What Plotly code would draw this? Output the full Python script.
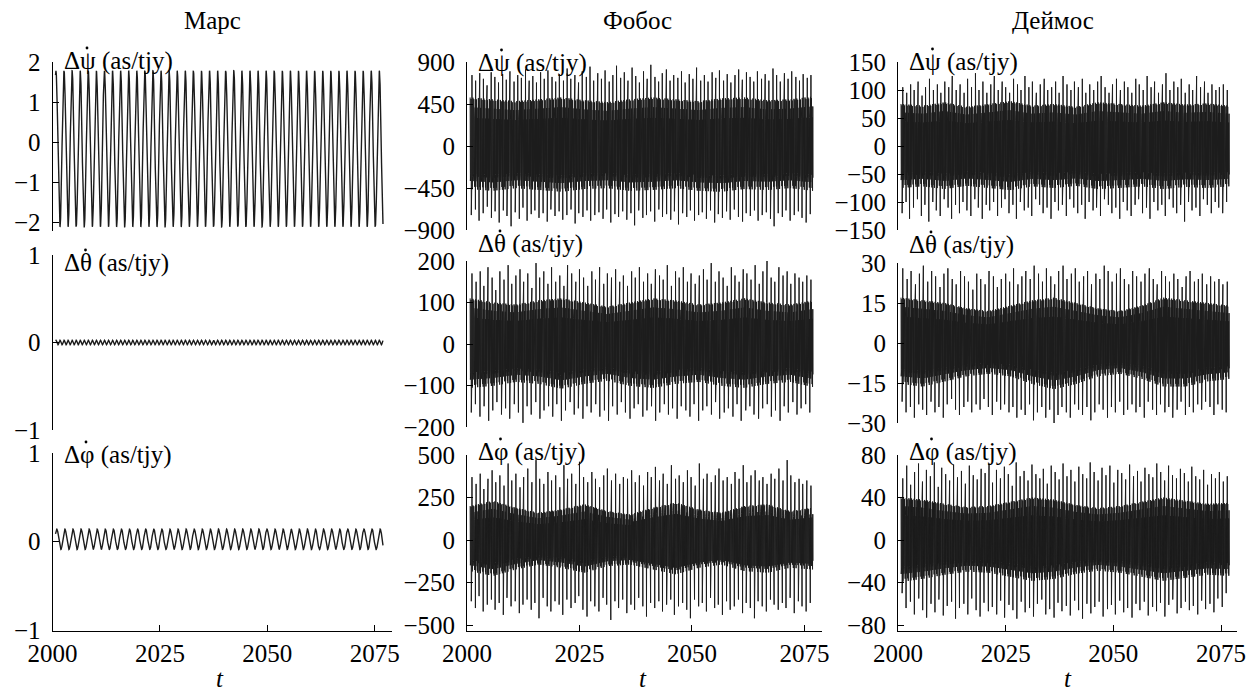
import numpy as np
import plotly.graph_objects as go

W, H = 1255, 695
FONT = "'Liberation Serif', 'Times New Roman', Times, serif"
FS = 25

# ---------------- data ----------------
column_titles = ["Марс", "Фобос", "Деймос"]
row_labels = ["Δψ (as/tjy)", "Δθ (as/tjy)", "Δφ (as/tjy)"]   # each symbol carries a dot above (time derivative)
x_tick_vals = [2000, 2025, 2050, 2075]

y_ticks_mars = [[-2, -1, 0, 1, 2], [-1, 0, 1], [-1, 0, 1]]
y_ticks_phobos = [[-900, -450, 0, 450, 900], [-200, -100, 0, 100, 200], [-500, -250, 0, 250, 500]]
y_ticks_deimos = [[-150, -100, -50, 0, 50, 100, 150], [-30, -15, 0, 15, 30], [-80, -40, 0, 40, 80]]

t_first, t_last = 2000.7, 2076.9

# Mars: regular oscillations (period in years, extremes)
mars_period = 1.881
mars_first_peak = 2000.8
mars_psi_max, mars_psi_min = 1.78, -2.12
mars_theta_period = 0.9405
mars_theta_max, mars_theta_min = 0.025, -0.025
mars_phi_first_peak = 2001.0
mars_phi_max, mars_phi_min = 0.14, -0.09

# Phobos / Deimos: core envelope (slow) and spike extremes, left to right
phobos_psi_core_hi = [520, 500, 480, 500, 520, 490, 470, 500, 520, 500, 480, 510, 520, 490, 500, 530]
phobos_psi_core_lo = [-480, -500, -470, -490, -510, -480, -470, -500, -490, -470, -500, -510, -480, -490, -470, -500]
phobos_psi_hi = [760, 700, 780, 720, 650, 790, 740, 680, 770, 710, 800, 690, 760, 730, 820, 700, 750, 680, 790, 720,
                 810, 740, 690, 770, 700, 830, 720, 760, 680, 800, 740, 850, 700, 780, 720, 810, 690, 760, 860, 730,
                 790, 700, 840, 750, 680, 800, 720, 870, 740, 690, 780, 820, 700, 760, 730, 800, 680, 770, 720, 840,
                 700, 760, 690, 790, 730, 810, 700, 770, 680, 760, 820, 710, 790, 740, 690, 800, 720, 770, 700, 830,
                 760, 690, 780, 720, 800, 740, 700, 770, 730, 760]
phobos_psi_lo = [-740, -680, -800, -720, -650, -770, -700, -820, -690, -750, -860, -710, -780, -660, -800, -730, -690,
                 -770, -720, -810, -680, -750, -700, -790, -740, -680, -830, -720, -760, -690, -800, -740, -710, -780,
                 -680, -820, -730, -760, -700, -790, -720, -850, -690, -770, -740, -700, -810, -680, -760, -730, -790,
                 -700, -840, -720, -760, -690, -800, -740, -710, -780, -690, -820, -730, -770, -700, -790, -680, -760,
                 -810, -720, -750, -690, -800, -740, -710, -780, -860, -720, -760, -690, -800, -740, -700, -770, -820,
                 -730]

phobos_theta_core_hi = [110, 100, 95, 105, 110, 100, 90, 100, 110, 105, 95, 100, 110, 100, 95, 105]
phobos_theta_core_lo = [-110, -105, -95, -100, -112, -100, -92, -105, -110, -100, -95, -105, -110, -100, -95, -108]
phobos_theta_hi = [170, 150, 175, 140, 185, 160, 130, 175, 155, 190, 145, 165, 180, 150, 170, 135, 195, 160, 175, 145,
                   185, 150, 165, 140, 190, 170, 150, 180, 160, 140, 175, 155, 185, 145, 170, 160, 180, 150, 165, 140,
                   175, 160, 185, 150, 170, 145, 180, 165, 155, 190, 140, 175, 160, 185, 150, 170, 145, 165, 180, 155,
                   195, 150, 175, 160, 140, 185, 165, 150, 180, 170, 155, 190, 145, 175, 200, 160, 150, 185, 165, 175,
                   145, 170, 160, 150, 165, 155]
phobos_theta_lo = [-165, -145, -175, -150, -185, -160, -140, -170, -155, -180, -145, -165, -190, -150, -170, -140, -180,
                   -160, -150, -175, -145, -185, -160, -140, -170, -155, -180, -150, -165, -145, -175, -160, -185, -150,
                   -170, -140, -165, -180, -155, -145, -175, -160, -150, -185, -165, -145, -170, -155, -180, -150, -160,
                   -175, -145, -185, -160, -150, -170, -140, -180, -165, -155, -175, -145, -185, -160, -150, -170, -180,
                   -155, -145, -175, -160, -185, -150, -165, -140, -170, -155, -145, -165]

phobos_phi_core_hi = [200, 230, 190, 160, 180, 210, 170, 150, 190, 220, 180, 160, 200, 210, 170, 190]
phobos_phi_core_lo = [-190, -220, -180, -150, -170, -200, -160, -150, -180, -210, -170, -150, -190, -200, -170, -180]
phobos_phi_hi = [370, 330, 390, 300, 360, 410, 340, 380, 320, 450, 350, 390, 310, 370, 420, 340, 470, 360, 330, 400,
                 350, 380, 310, 440, 360, 390, 330, 460, 370, 340, 400, 360, 310, 380, 420, 350, 390, 330, 370, 360,
                 410, 340, 380, 320, 400, 370, 430, 350, 390, 330, 440, 360, 380, 340, 410, 370, 320, 450, 360, 390,
                 340, 380, 420, 350, 370, 330, 400, 360, 440, 340, 380, 410, 350, 370, 330, 390, 360, 420, 350, 470,
                 380, 340, 360, 330, 350, 320]
phobos_phi_lo = [-360, -400, -330, -420, -380, -350, -410, -370, -440, -340, -390, -360, -430, -380, -350, -410, -370,
                 -460, -340, -390, -420, -360, -380, -440, -350, -400, -370, -330, -410, -450, -360, -390, -420, -340,
                 -380, -470, -360, -400, -350, -430, -380, -410, -340, -390, -450, -370, -400, -360, -420, -380, -350,
                 -440, -390, -370, -410, -460, -350, -390, -370, -420, -340, -400, -380, -440, -360, -410, -390, -350,
                 -430, -370, -400, -460, -360, -390, -420, -350, -380, -410, -370, -400, -340, -430, -360, -390, -420,
                 -370]

deimos_psi_core_hi = [75, 72, 78, 70, 75, 80, 72, 75, 70, 78, 75, 72, 78, 74, 76, 72]
deimos_psi_core_lo = [-78, -75, -80, -74, -78, -82, -75, -78, -74, -80, -78, -75, -80, -76, -78, -75]
deimos_psi_hi = [105, 95, 110, 100, 115, 90, 105, 120, 100, 110, 95, 115, 105, 125, 100, 110, 95, 120, 105, 130,
                 100, 115, 95, 110, 125, 100, 115, 105, 95, 120, 110, 100, 125, 105, 115, 95, 110, 120, 100, 105,
                 115, 95, 125, 110, 100, 115, 105, 120, 95, 110, 100, 115, 125, 105, 95, 110, 120, 100, 115, 105,
                 95, 120, 110, 100, 125, 105, 115, 95, 110, 130, 100, 115, 105, 120, 95, 110, 100, 125, 105, 115,
                 95, 110, 100, 105, 110, 100]
deimos_psi_lo = [-120, -100, -130, -110, -95, -125, -105, -135, -100, -115, -125, -95, -110, -130, -105, -120, -100,
                 -115, -125, -95, -110, -130, -105, -115, -100, -125, -110, -95, -120, -105, -130, -100, -115, -110,
                 -125, -95, -105, -120, -110, -130, -100, -115, -105, -125, -95, -110, -120, -105, -130, -100, -115,
                 -110, -125, -95, -105, -120, -110, -130, -100, -115, -125, -105, -95, -120, -110, -130, -100, -115,
                 -105, -125, -95, -110, -120, -105, -135, -100, -115, -110, -125, -95, -105, -120, -100, -110, -120,
                 -100]

deimos_theta_core_hi = [17, 16, 15, 13, 12, 14, 16, 17, 15, 13, 12, 14, 17, 16, 15, 14]
deimos_theta_core_lo = [-16, -17, -15, -13, -12, -13, -16, -18, -16, -13, -12, -14, -17, -17, -15, -14]
deimos_theta_hi = [28, 24, 27, 22, 26, 29, 23, 27, 25, 21, 26, 28, 24, 22, 27, 25, 23, 20, 26, 24, 22, 27, 25, 21,
                   24, 26, 23, 28, 22, 25, 27, 24, 29, 26, 23, 28, 25, 22, 27, 29, 24, 26, 28, 23, 25, 27, 22, 26,
                   24, 29, 27, 23, 26, 28, 24, 22, 27, 25, 23, 26, 28, 24, 22, 27, 25, 23, 26, 24, 21, 25, 27, 23,
                   24, 26, 22, 25, 23, 24, 22, 23]
deimos_theta_lo = [-22, -26, -24, -28, -23, -25, -27, -22, -26, -24, -28, -23, -21, -25, -27, -24, -22, -26, -23, -25,
                   -21, -24, -27, -22, -25, -23, -26, -24, -28, -25, -27, -23, -29, -26, -24, -28, -25, -30, -27, -24,
                   -26, -28, -23, -25, -27, -24, -29, -26, -23, -25, -28, -24, -26, -22, -27, -25, -23, -26, -24, -28,
                   -22, -25, -27, -23, -26, -24, -28, -25, -22, -27, -24, -26, -23, -25, -22, -24, -27, -23, -25, -26]

deimos_phi_core_hi = [40, 38, 34, 31, 32, 36, 40, 38, 33, 30, 32, 36, 40, 37, 34, 35]
deimos_phi_core_lo = [-41, -38, -34, -31, -32, -36, -40, -38, -33, -30, -32, -36, -40, -37, -34, -35]
deimos_phi_hi = [58, 70, 52, 64, 72, 55, 66, 60, 73, 50, 68, 62, 56, 71, 59, 65, 53, 70, 61, 57, 67, 63, 72, 54,
                 66, 58, 69, 62, 51, 73, 60, 65, 56, 71, 62, 58, 67, 53, 70, 64, 57, 72, 60, 66, 55, 69, 62, 58,
                 73, 64, 56, 68, 61, 70, 54, 66, 63, 57, 71, 60, 65, 55, 68, 62, 59, 72, 64, 56, 70, 61, 58, 67,
                 63, 55, 69, 60, 57, 66, 52, 62, 58, 64, 55, 60]
deimos_phi_lo = [-50, -64, -58, -70, -55, -66, -73, -60, -68, -56, -71, -62, -58, -74, -64, -60, -70, -55, -66, -72,
                 -59, -67, -63, -70, -57, -73, -61, -66, -74, -58, -68, -64, -72, -60, -56, -70, -65, -73, -59, -67,
                 -62, -71, -57, -66, -74, -60, -69, -63, -58, -72, -65, -61, -70, -57, -68, -64, -73, -60, -66, -58,
                 -71, -63, -67, -59, -72, -61, -56, -69, -64, -58, -66, -62, -70, -57, -65, -60, -68, -55, -63, -50]

# texture of the dense core (fractions of the envelope, repeating)
core_pattern = [1.0, 0.78, 0.94, 0.62, 0.97, 0.85, 0.7, 0.9, 0.58, 0.96, 0.8, 0.68]


# ---------------- series builders ----------------
def oscillation(first_peak, period, vmax, vmin, n=5000):
    t = np.linspace(t_first, t_last, n)
    mid = (vmax + vmin) / 2
    amp = (vmax - vmin) / 2
    return t, mid + amp * np.cos(2 * np.pi * (t - first_peak) / period)


def dense(core_hi, core_lo, spikes_hi, spikes_lo, n_half=1500):
    t = np.linspace(t_first, t_last, n_half)
    idx = np.arange(n_half)
    nodes_hi = np.linspace(t_first, t_last, len(core_hi))
    nodes_lo = np.linspace(t_first, t_last, len(core_lo))
    env_hi = np.interp(t, nodes_hi, core_hi)
    env_lo = np.interp(t, nodes_lo, core_lo)
    pat = np.array(core_pattern)[idx % len(core_pattern)]
    y = np.where(idx % 2 == 0, env_hi * pat, env_lo * pat)
    k_hi = len(spikes_hi)
    for k, v in enumerate(spikes_hi):
        j = int(round((k + 0.5) / k_hi * (n_half - 1)))
        j -= j % 2
        y[j] = v
    k_lo = len(spikes_lo)
    for k, v in enumerate(spikes_lo):
        j = int(round((k + 0.25) / k_lo * (n_half - 1)))
        if j % 2 == 0:
            j += 1
        y[min(j, n_half - 1)] = v
    return t, y


series = {
    (0, 0): oscillation(mars_first_peak, mars_period, mars_psi_max, mars_psi_min),
    (1, 0): oscillation(mars_first_peak, mars_theta_period, mars_theta_max, mars_theta_min),
    (2, 0): oscillation(mars_phi_first_peak, mars_period, mars_phi_max, mars_phi_min),
    (0, 1): dense(phobos_psi_core_hi, phobos_psi_core_lo, phobos_psi_hi, phobos_psi_lo),
    (1, 1): dense(phobos_theta_core_hi, phobos_theta_core_lo, phobos_theta_hi, phobos_theta_lo),
    (2, 1): dense(phobos_phi_core_hi, phobos_phi_core_lo, phobos_phi_hi, phobos_phi_lo),
    (0, 2): dense(deimos_psi_core_hi, deimos_psi_core_lo, deimos_psi_hi, deimos_psi_lo),
    (1, 2): dense(deimos_theta_core_hi, deimos_theta_core_lo, deimos_theta_hi, deimos_theta_lo),
    (2, 2): dense(deimos_phi_core_hi, deimos_phi_core_lo, deimos_phi_hi, deimos_phi_lo),
}
yticks = {(r, 0): y_ticks_mars[r] for r in range(3)}
yticks.update({(r, 1): y_ticks_phobos[r] for r in range(3)})
yticks.update({(r, 2): y_ticks_deimos[r] for r in range(3)})

# ---------------- layout geometry (pixels) ----------------
cols_geo = [(52.5, 392, 2079.0), (467, 822, 2078.9), (898, 1237, 2078.7)]
panel_geo = {  # top px, bottom px, ymin, ymax
    (0, 0): (62, 231, -2.225, 2), (0, 1): (62, 230, -900, 900), (0, 2): (62, 230, -150, 150),
    (1, 0): (255, 430, -1, 1), (1, 1): (261, 427, -200, 200), (1, 2): (263, 423, -30, 30),
    (2, 0): (453, 631, -1.011, 1), (2, 1): (455, 631, -535, 500), (2, 2): (455, 631, -85.6, 80),
}
label_y = {(0, 0): 61, (0, 1): 63, (0, 2): 62, (1, 0): 263, (1, 1): 244, (1, 2): 245,
           (2, 0): 455, (2, 1): 452, (2, 2): 452}
dot_dx = [34.5, 33.0, 33.5]      # dot above the Greek symbol, offset from the y axis
dot_dy = -13
title_x = [212, 638, 1053]
t_x = [220, 643, 1068]


def px(x):
    return x / W


def py(y):
    return 1 - y / H


fig = go.Figure()
layout = dict(
    template="none",
    width=W, height=H, autosize=False, margin=dict(l=0, r=0, t=0, b=0, pad=0),
    paper_bgcolor="white", plot_bgcolor="white", showlegend=False,
    font=dict(family=FONT, size=FS, color="black"),
)
annotations = []
shapes = []
for r in range(3):
    for c in range(3):
        i = r * 3 + c + 1
        sfx = "" if i == 1 else str(i)
        t, y = series[(r, c)]
        fig.add_trace(go.Scatter(x=t, y=y, mode="lines", xaxis="x" + sfx, yaxis="y" + sfx,
                                 line=dict(color="#1c1c1c", width=1.4 if c == 0 else 1.0),
                                 hoverinfo="skip"))
        x0, x1, xmax = cols_geo[c]
        top, bot, ymin, ymax = panel_geo[(r, c)]
        xa = dict(domain=[px(x0), px(x1)], range=[2000, xmax], anchor="y" + sfx, automargin=False,
                  showgrid=False, zeroline=False)
        if r == 2:
            xa.update(showline=True, linecolor="black", linewidth=1, ticks="inside", ticklen=6,
                      tickcolor="black", tickvals=x_tick_vals, ticktext=[str(v) for v in x_tick_vals],
                      tickfont=dict(family=FONT, size=FS, color="black"))
        else:
            xa.update(visible=False)
        ya = dict(domain=[py(bot), py(top)], range=[ymin, ymax], anchor="x" + sfx, automargin=False,
                  showgrid=False, zeroline=False, showline=True, linecolor="black", linewidth=1,
                  ticks="inside", ticklen=6, tickcolor="black", tickvals=yticks[(r, c)],
                  ticktext=[str(v).replace("-", "\u2212") for v in yticks[(r, c)]],
                  tickfont=dict(family=FONT, size=FS, color="black"), ticklabelstandoff=6)
        layout["xaxis" + sfx] = xa
        layout["yaxis" + sfx] = ya
        ly = label_y[(r, c)]
        annotations.append(dict(x=px(x0 + 9), y=py(ly), xref="paper", yref="paper",
                                text=row_labels[r], showarrow=False, xanchor="left", yanchor="middle",
                                font=dict(family=FONT, size=FS, color="black")))
        dx, dy = x0 + dot_dx[r], ly + dot_dy
        shapes.append(dict(type="circle", xref="paper", yref="paper",
                           x0=px(dx - 1.4), x1=px(dx + 1.4), y0=py(dy + 1.4), y1=py(dy - 1.4),
                           fillcolor="black", line=dict(width=0)))

for c in range(3):
    annotations.append(dict(x=px(title_x[c]), y=py(20), xref="paper", yref="paper",
                            text=column_titles[c], showarrow=False, xanchor="center", yanchor="middle",
                            font=dict(family=FONT, size=FS, color="black")))
    annotations.append(dict(x=px(t_x[c]), y=py(694), xref="paper", yref="paper",
                            text="<i>t</i>", showarrow=False, xanchor="center", yanchor="bottom",
                            font=dict(family=FONT, size=FS, color="black")))

layout["annotations"] = annotations
layout["shapes"] = shapes
fig.update_layout(**layout)
fig.write_html("out.html", config={"displayModeBar": False},
               post_script="document.body.style.margin='0';document.body.style.overflow='hidden';")
